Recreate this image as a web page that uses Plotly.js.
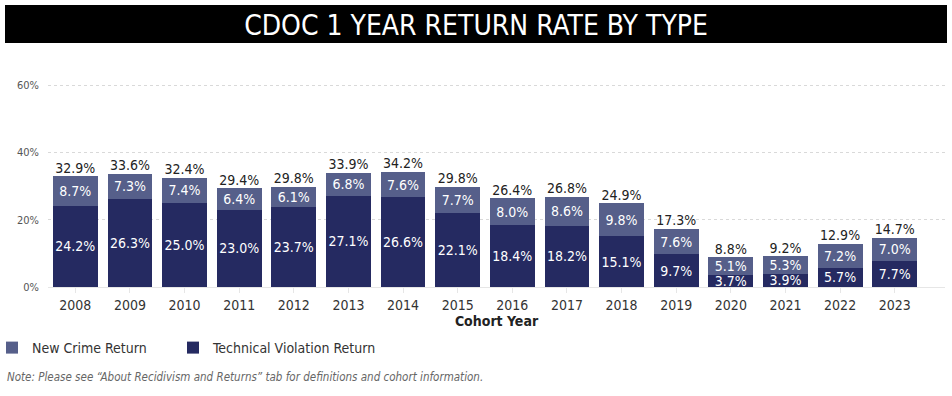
<!DOCTYPE html>
<html>
<head>
<meta charset="utf-8">
<script src="https://cdn.plot.ly/plotly-3.0.1.min.js"></script>
<style>
html,body{margin:0;padding:0;background:#fff;}
#chart{width:952px;height:396px;}
</style>
</head>
<body>
<div id="chart"></div>
<script>
const years = ["2008","2009","2010","2011","2012","2013","2014","2015","2016","2017","2018","2019","2020","2021","2022","2023"];
const technicalViolation = [24.2,26.3,25.0,23.0,23.7,27.1,26.6,22.1,18.4,18.2,15.1,9.7,3.7,3.9,5.7,7.7];
const newCrime = [8.7,7.3,7.4,6.4,6.1,6.8,7.6,7.7,8.0,8.6,9.8,7.6,5.1,5.3,7.2,7.0];
const totals = [32.9,33.6,32.4,29.4,29.8,33.9,34.2,29.8,26.4,26.8,24.9,17.3,8.8,9.2,12.9,14.7];
const yTicks = [0,20,40,60];
const yTickLabels = ["0%","20%","40%","60%"];

const FONT = "'DejaVu Sans Condensed', 'DejaVu Sans', sans-serif";
const DARK = "#252a61";
const LIGHT = "#565f8a";

const pct = v => v.toFixed(1) + "%";

const traces = [
  {
    type: "bar", name: "Technical Violation Return", x: years, y: technicalViolation,
    marker: {color: DARK}, text: technicalViolation.map(pct),
    textposition: "inside", insidetextanchor: "middle", constraintext: "none", textangle: 0,
    textfont: {family: FONT, size: 14, color: "#ffffff"},
    hoverinfo: "x+y", legend: "legend2"
  },
  {
    type: "bar", name: "New Crime Return", x: years, y: newCrime,
    marker: {color: LIGHT}, text: newCrime.map(pct),
    textposition: "inside", insidetextanchor: "middle", constraintext: "none", textangle: 0,
    textfont: {family: FONT, size: 14, color: "#ffffff"},
    hoverinfo: "x+y", legend: "legend"
  },
  {
    type: "scatter", mode: "text", x: years, y: totals, text: totals.map(pct),
    textposition: "top center", textfont: {family: FONT, size: 14, color: "#222222"},
    showlegend: false, hoverinfo: "skip", cliponaxis: false
  }
];

const L = 48, T = 75, B = 109, R = 7;
const W = 952 - L - R, H = 396 - T - B;

const legendBase = {
  orientation: "h", xanchor: "left", y: (396 - B - 332)/H, yanchor: "top",
  font: {family: FONT, size: 14, color: "#333333"},
  itemwidth: 30, bgcolor: "rgba(0,0,0,0)"
};

const layout = {
  width: 952, height: 396,
  margin: {l: L, r: R, t: T, b: B, pad: 0, autoexpand: false},
  paper_bgcolor: "#ffffff", plot_bgcolor: "#ffffff",
  barmode: "stack", bargap: 0.18,
  font: {family: FONT, color: "#333333"},
  title: {
    text: "CDOC 1 YEAR RETURN RATE BY TYPE",
    font: {family: FONT, size: 28, color: "#ffffff"},
    x: 0.5, xanchor: "center", xref: "container", y: 1 - 25/396, yanchor: "middle", yref: "container"
  },
  shapes: [{
    type: "rect", xref: "paper", yref: "paper", layer: "below",
    x0: (5 - L)/W, x1: (947 - L)/W, y0: (396 - B - 43)/H, y1: (396 - B - 5)/H,
    fillcolor: "#000000", line: {width: 0}
  }],
  xaxis: {
    type: "category", range: [-0.5, 15.92],
    tickfont: {family: FONT, size: 14, color: "#333333"},
    ticks: "outside", ticklen: 5, tickcolor: "#e6e6e6", tickwidth: 1,
    showgrid: false, showline: false, zeroline: false, fixedrange: true, automargin: false,
    title: {text: "<b>Cohort Year</b>", font: {family: FONT, size: 14, color: "#222222"}, standoff: 4}
  },
  yaxis: {
    range: [0, 63], tickvals: yTicks, ticktext: yTickLabels,
    tickfont: {family: FONT, size: 11, color: "#555555"},
    showgrid: true, gridcolor: "#d9d9d9", griddash: "dot", gridwidth: 1,
    zeroline: true, zerolinecolor: "#e6e6e6", zerolinewidth: 1,
    ticks: "", ticklabelstandoff: 8, fixedrange: true, automargin: false
  },
  showlegend: true,
  legend: Object.assign({}, legendBase, {x: (-8 - L)/W}),
  legend2: Object.assign({}, legendBase, {x: (173 - L)/W}),
  annotations: [{
    text: "<i>Note: Please see \u201cAbout Recidivism and Returns\u201d tab for definitions and cohort information.</i>",
    xref: "paper", yref: "paper", x: (5 - L)/W, xanchor: "left",
    y: (396 - B - 377)/H, yanchor: "middle", showarrow: false,
    font: {family: FONT, size: 11.5, color: "#666666"}
  }]
};

Plotly.newPlot("chart", traces, layout, {displayModeBar: false, staticPlot: true});
</script>
</body>
</html>
